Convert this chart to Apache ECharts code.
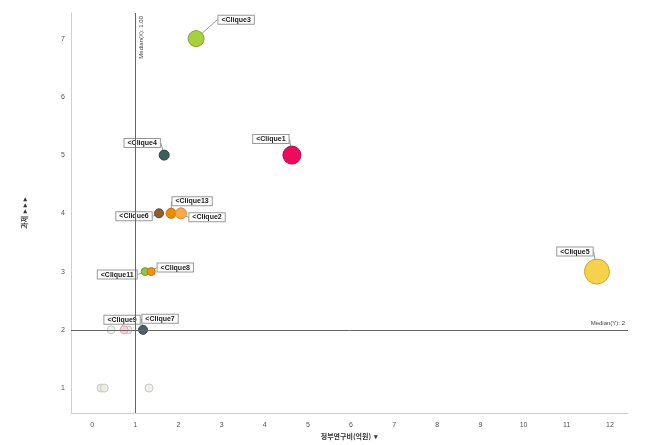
<!DOCTYPE html>
<html><head><meta charset="utf-8">
<script src="https://cdn.jsdelivr.net/npm/echarts@6/dist/echarts.min.js"></script>
<style>html,body{margin:0;padding:0;background:#fff}#c{width:660px;height:445px}</style>
</head><body><div id="c"></div>
<script>
// Labeled cliques
const names = ['Clique3','Clique1','Clique4','Clique5','Clique6','Clique13','Clique2','Clique11','Clique8','Clique9','Clique7'];
const xVals = [2.41, 4.63, 1.67, 11.70, 1.55, 1.83, 2.06, 1.23, 1.37, 0.74, 1.18];
const yVals = [7, 5, 5, 3, 4, 4, 4, 3, 3, 2, 2];
const sizeVals = [16, 18, 10, 25, 9, 10, 11, 8, 8, 8, 9];
// Faded (unlabeled) cliques
const fadedX = [0.44, 0.83, 0.21, 0.28, 1.32];
const fadedY = [2, 2, 1, 1, 1];
const fadedSize = [8, 8, 8, 8, 8];
const medianX = 1.00;
const medianY = 2;
const xTicks = [0,1,2,3,4,5,6,7,8,9,10,11,12];
const yTicks = [1,2,3,4,5,6,7];

const colors = ['#a8cf3c','#ec0b5f','#3f5d5d','#f6d24c','#8b5e34','#f08a00','#f7aa4c','#8dc63f','#f39019','#f4d0d8','#4a6068'];
const borders = ['#7fa32a','#b8084a','#2c4444','#cfa62a','#6a4425','#c06e00','#d88a30','#6e9e2e','#c87010','#e0a8b4','#33454c'];
const fadedColors = ['#eef0f0','#e2eeeb','#eef0e0','#eceedd','#f0f0ec'];
const labelOffsets = [[40,-19],[-21,-16],[-22,-12],[-22,-20],[-25,3],[21,-12],[26,4],[-28,3],[24,-4],[-2,-10],[17,-11]];

const chart = echarts.init(document.getElementById('c'));
const mainData = names.map((n,i)=>({
  name: n, value: [xVals[i], yVals[i], sizeVals[i]],
  itemStyle: {color: colors[i], borderColor: borders[i], borderWidth: 1, opacity: 1}
}));
const fadedData = fadedX.map((x,i)=>({
  value: [x, fadedY[i], fadedSize[i]],
  itemStyle: {color: fadedColors[i], borderColor: '#c4c8c4', borderWidth: 1, opacity: 1}
}));
chart.setOption({
  animation: false,
  grid: {left: 71, right: 32, top: 13, bottom: 27},
  xAxis: {
    type: 'value', min: -0.49, max: 12.42,
    name: '정부연구비(억원)  ▾', nameLocation: 'middle', nameGap: 19,
    nameTextStyle: {fontSize: 7, color: '#333', fontWeight: 'bold', fontFamily: 'Noto Sans CJK KR'},
    axisLine: {show: true, onZero: false, lineStyle: {color: '#d0d0d0'}},
    axisTick: {show: false},
    splitLine: {show: false},
    axisLabel: {customValues: xTicks, fontSize: 7, color: '#555', margin: 8, fontFamily: 'Liberation Sans'}
  },
  yAxis: {
    type: 'value', min: 0.57, max: 7.44,
    name: '과제  ▸ ▸ ▸', nameLocation: 'middle', nameGap: 43, nameRotate: 90,
    nameTextStyle: {fontSize: 7, color: '#333', fontWeight: 'bold', fontFamily: 'Noto Sans CJK KR'},
    axisLine: {show: true, onZero: false, lineStyle: {color: '#d0d0d0'}},
    axisTick: {show: false},
    splitLine: {show: false},
    axisLabel: {customValues: yTicks, fontSize: 7, color: '#555', margin: 6, fontFamily: 'Liberation Sans'}
  },
  series: [
    {
      type: 'scatter', z: 2,
      data: fadedData,
      symbolSize: v => v[2]
    },
    {
      type: 'scatter', z: 3,
      data: mainData,
      symbolSize: v => v[2],
      label: {
        show: true, position: 'inside',
        formatter: p => '<' + p.name,
        fontSize: 7, fontWeight: 'bold', color: '#222', fontFamily: 'Liberation Sans',
        backgroundColor: '#fff', borderColor: '#999', borderWidth: 1, padding: [1, 3, 0, 3]
      },
      labelLine: {show: true, lineStyle: {color: '#999', width: 1}},
      labelLayout: p => ({dx: labelOffsets[p.dataIndex][0], dy: labelOffsets[p.dataIndex][1]}),
      markLine: {
        silent: true, symbol: ['none','none'],
        lineStyle: {color: '#666', width: 1, type: 'solid'},
        data: [
          {xAxis: medianX, label: {show: true, formatter: 'Median(X): 1.00', position: 'insideEndBottom', fontSize: 6, color: '#444', distance: 3}},
          {yAxis: medianY, label: {show: true, formatter: 'Median(Y): 2', position: 'insideEndTop', fontSize: 6, color: '#444', distance: 3}}
        ]
      }
    }
  ]
});
</script></body></html>
